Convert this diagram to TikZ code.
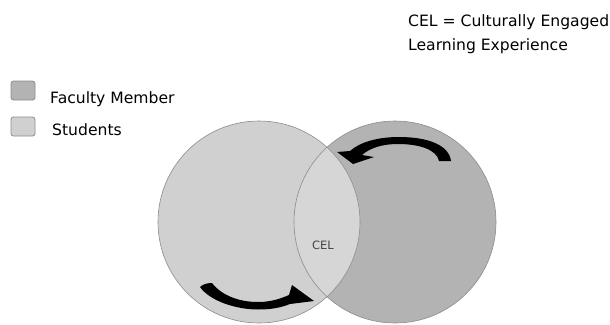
\documentclass[tikz,border=0pt]{standalone}
\usepackage{fontspec}
\setmainfont{DejaVu Sans}
\definecolor{facgray}{HTML}{B3B3B3}
\definecolor{stugray}{HTML}{D0D0D0}
\definecolor{lensgray}{HTML}{D6D6D6}
\definecolor{edgegray}{HTML}{8C8C8C}
\definecolor{celtext}{HTML}{444444}
\tikzset{
  legendbox/.style={draw=edgegray, line width=0.8pt, rounded corners=2.5pt},
  lbl/.style={inner sep=0pt, anchor=base west, font=\fontsize{15.6}{18}\selectfont},
  ringedge/.style={draw=edgegray, line width=0.6pt},
  turnarrow/.style={fill=black, draw=none}
}
\begin{document}
\begin{tikzpicture}[x=1pt,y=-1pt]
\useasboundingbox (0,0) rectangle (610,324);
\fill[white] (0,0) rectangle (610,324);
% circles
\coordinate (cs) at (259,222);
\coordinate (cf) at (395,222);
\fill[facgray] (cf) circle[radius=101pt];
\fill[stugray] (cs) circle[radius=101pt];
\begin{scope}
  \clip (cf) circle[radius=101pt];
  \fill[lensgray] (cs) circle[radius=101pt];
\end{scope}
\draw[ringedge] (cf) circle[radius=101pt];
\draw[ringedge] (cs) circle[radius=101pt];
% top arrow (faculty circle)
\fill[turnarrow] (451,161) .. controls (449,145) and (428,137) .. (399,137)
  .. controls (378,137) and (360,142) .. (350,151)
  -- (337,152) -- (353,164) -- (374,157) -- (362,155)
  .. controls (370,148) and (382,144) .. (398,144)
  .. controls (420,144) and (437,150) .. (439,161) -- cycle;
% bottom arrow (student circle)
\fill[turnarrow] (212,283) .. controls (222,296) and (240,302) .. (258,302)
  .. controls (272,302) and (282,298) .. (289,295)
  -- (292,285) -- (314,301) -- (290,304)
  .. controls (280,308) and (270,309.5) .. (258,309.5)
  .. controls (236,309.5) and (210,301) .. (200,287)
  .. controls (203,284) and (208,283) .. (212,283) -- cycle;
% legend
\node[legendbox, fill=facgray, minimum width=24pt, minimum height=19pt, inner sep=0pt] (facbox) at (23,90.5) {};
\node[legendbox, fill=stugray, minimum width=24pt, minimum height=19pt, inner sep=0pt] (stubox) at (23,126.5) {};
\node[lbl] (faclbl) at (50,103) {Faculty Member};
\node[lbl] (stulbl) at (52,135) {Students};
% definition
\node[lbl] (def1) at (408,27) {CEL = Culturally Engaged};
\node[lbl] (def2) at (408,50) {Learning Experience};
% CEL label
\node[inner sep=0pt, anchor=base west, font=\fontsize{11.5}{13}\selectfont, text=celtext] (cel) at (312,249) {CEL};
\end{tikzpicture}
\end{document}
